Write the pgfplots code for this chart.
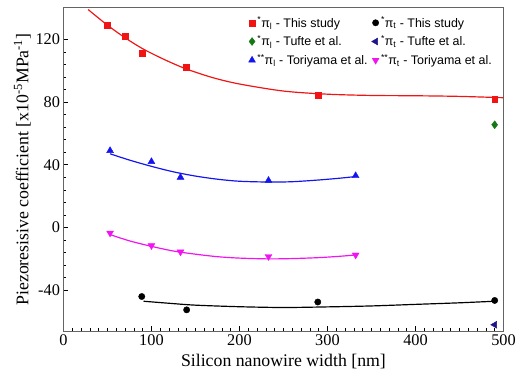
\documentclass[border=0pt]{standalone}
\usepackage{pgfplots}
\pgfplotsset{compat=1.18}
\usepackage{fontspec}
\setmainfont{Liberation Serif}
\newfontfamily\legfont{Liberation Sans}
\definecolor{cred}{RGB}{240,20,20}
\definecolor{cgreen}{RGB}{20,120,20}
\definecolor{cblue}{RGB}{20,20,240}
\definecolor{cmag}{RGB}{240,20,240}
\definecolor{cnavy}{RGB}{30,20,140}
\definecolor{axgray}{RGB}{100,100,100}
\begin{document}
\begin{tikzpicture}
\begin{axis}[
  scale only axis, width=444bp, height=326bp,
  xmin=0, xmax=500, ymin=-66, ymax=140,
  xtick={0,100,...,500}, ytick={-40,0,40,80,120},
  minor x tick num=9, minor y tick num=4,
  tick align=inside, xtick pos=bottom, ytick pos=left,
  major tick length=5bp, minor tick length=3bp,
  axis line style={axgray, line width=1pt},
  every tick/.style={black, line width=0.6pt},
  /pgf/number format/assume math mode=true,
  tick label style={font=\fontsize{16.5}{18}\selectfont},
  xlabel={Silicon nanowire width [nm]},
  ylabel={Piezoresisive coefficient [x10\textsuperscript{-5}MPa\textsuperscript{-1}]},
  label style={font=\fontsize{18}{20}\selectfont},
  xlabel style={yshift=-2bp},
  ylabel style={yshift=-2bp},
  legend columns=2,
  legend style={draw=none, fill=none, at={(0.985,0.985)}, anchor=north east,
    font=\legfont\fontsize{12.6}{14}\selectfont, row sep=3bp,
    /tikz/every even column/.append style={column sep=2bp}},
  legend cell align=left,
]
% fitted curves
\addplot[cred, line width=1.2pt, smooth, forget plot] coordinates {
 (28,139) (50,129) (70,121) (90,114) (115,107) (140,101) (170,95.5) (200,91.5) (250,87) (300,85) (350,84.2) (400,84) (450,83.6) (508,82.6)};
\addplot[cblue, line width=1.2pt, smooth, forget plot] coordinates {
 (53,47) (75,43) (100,39) (125,35.5) (150,32.8) (175,30.8) (200,29.5) (233,29) (260,29.2) (290,30.3) (315,31.5) (332,32.5)};
\addplot[cmag, line width=1.2pt, smooth, forget plot] coordinates {
 (53,-4.5) (75,-8.5) (100,-12) (125,-15) (150,-17) (175,-18.6) (200,-19.5) (233,-20) (260,-19.8) (290,-19.2) (315,-18.3) (332,-17.5)};
\addplot[black, line width=1.2pt, smooth, forget plot] coordinates {
 (91,-47) (120,-48.3) (150,-49.5) (200,-50.5) (250,-51) (300,-50.6) (350,-50) (400,-49) (450,-48) (490,-47)};
% data
\addplot[only marks, mark=square*, mark size=3bp, color=cred] coordinates {
 (50,129) (70,122) (90,111) (140,102) (290,84.5) (490,82)};
\addlegendentry{\textsuperscript{*}π\textsubscript{l} - This study}
\addplot[only marks, mark=*, mark size=3.2bp, color=black] coordinates {
 (89,-44) (140,-52.5) (289,-47.5) (490,-46.5)};
\addlegendentry{\textsuperscript{*}π\textsubscript{t} - This study}
\addplot[only marks, mark=diamond*, mark size=4bp, color=cgreen] coordinates {
 (490,65.5)};
\addlegendentry{\textsuperscript{*}π\textsubscript{l} - Tufte et al.}
\addplot[only marks, mark=triangle*, mark options={rotate=90}, mark size=4bp, color=cnavy] coordinates {
 (490,-62)};
\addlegendentry{\textsuperscript{*}π\textsubscript{t} - Tufte et al.}
\addplot[only marks, mark=triangle*, mark size=4bp, color=cblue] coordinates {
 (53,49) (100,42) (133,32) (233,30) (332,33)};
\addlegendentry{\textsuperscript{**}π\textsubscript{l} - Toriyama et al.}
\addplot[only marks, mark=triangle*, mark options={rotate=180}, mark size=4bp, color=cmag] coordinates {
 (53,-3.5) (100,-11.5) (133,-15.5) (233,-18.5) (332,-17.5)};
\addlegendentry{\textsuperscript{**}π\textsubscript{t} - Toriyama et al.}
\end{axis}
\path ([shift={(-64bp,-56bp)}]current axis.south west) rectangle ([shift={(11bp,8bp)}]current axis.north east);
\end{tikzpicture}
\end{document}
